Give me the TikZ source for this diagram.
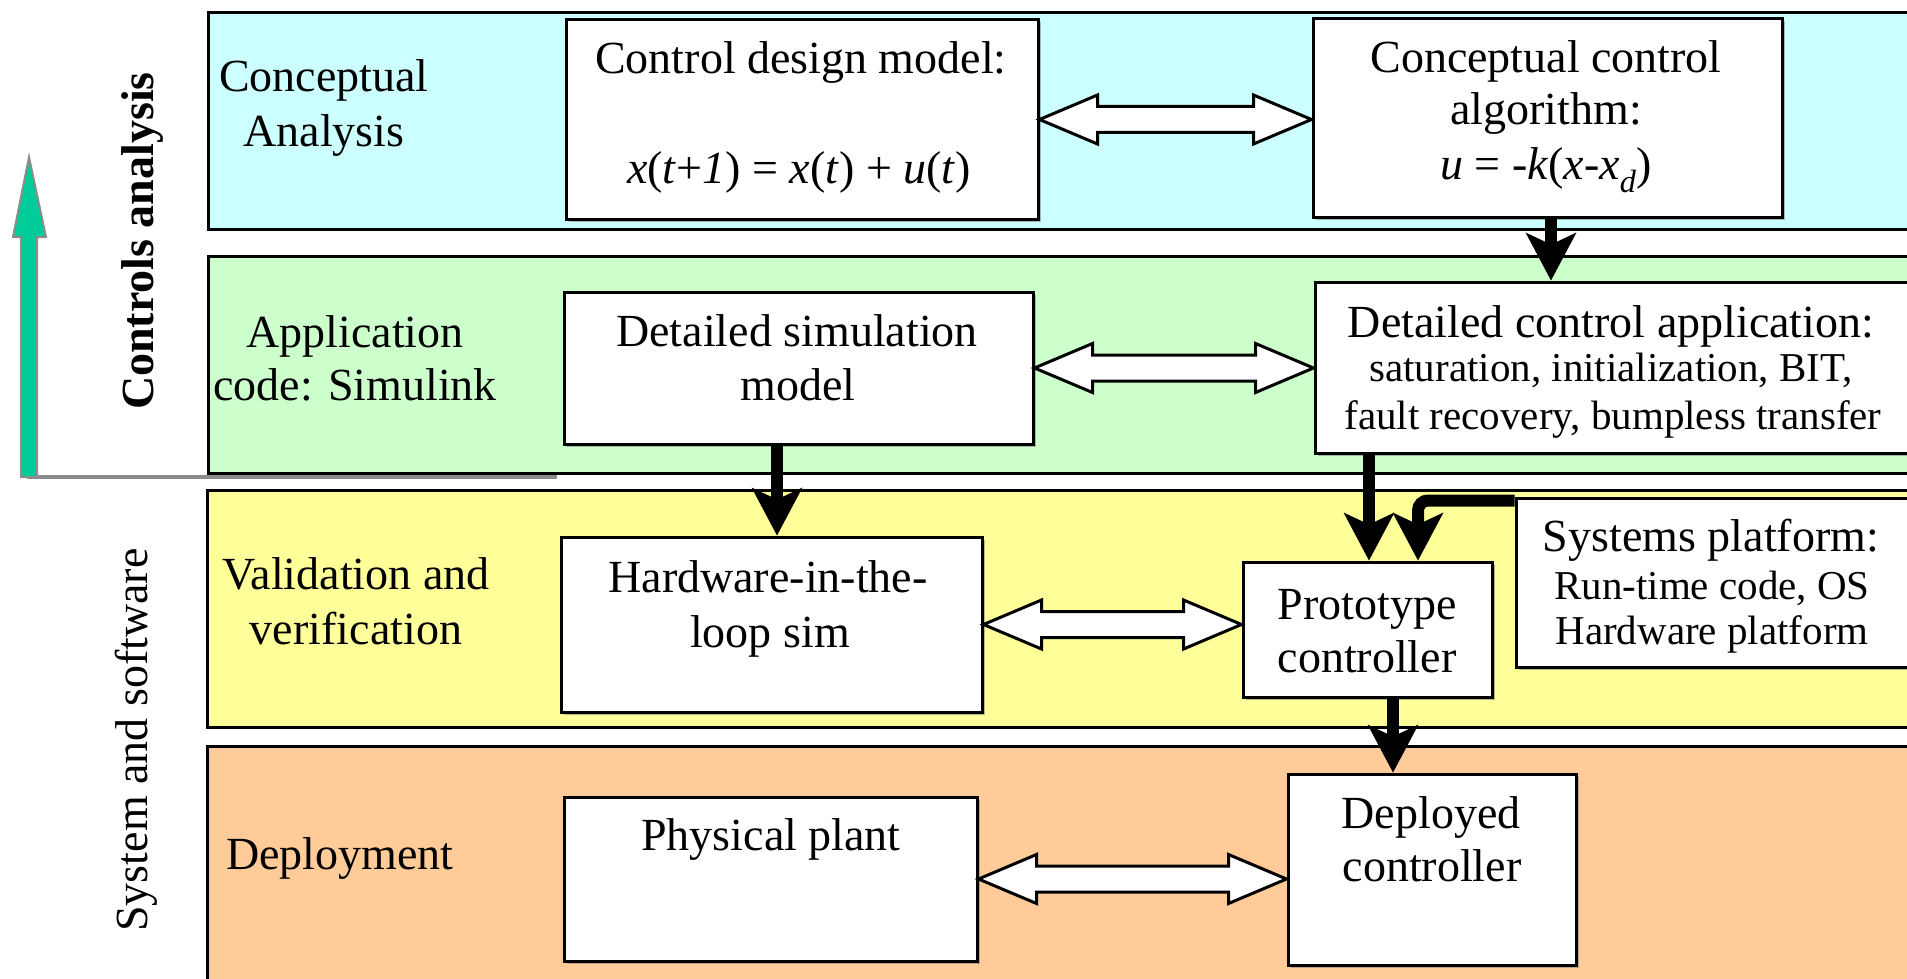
\documentclass[tikz,border=0pt]{standalone}
\usepackage{fontspec}
\setmainfont{Liberation Serif}
\usetikzlibrary{arrows.meta,calc,shadows}

\definecolor{bandcyan}{HTML}{CCFFFF}
\definecolor{bandgreen}{HTML}{CCFFCC}
\definecolor{bandyellow}{HTML}{FFFF99}
\definecolor{bandorange}{HTML}{FFCC99}
\definecolor{axisgreen}{HTML}{00CC99}
\definecolor{axisgray}{HTML}{8C8C8C}

% hollow two-headed arrow between two points on the same height
\newcommand\widearrow[2]{%
  \path[dblarrow] let \p1=(#1), \p2=(#2) in
    (\x1,\y1) -- (\x1+58pt,\y1+24.5pt) -- (\x1+58pt,\y1+13pt)
    -- (\x2-58pt,\y1+13pt) -- (\x2-58pt,\y1+24.5pt) -- (\x2,\y1)
    -- (\x2-58pt,\y1-24.5pt) -- (\x2-58pt,\y1-13pt)
    -- (\x1+58pt,\y1-13pt) -- (\x1+58pt,\y1-24.5pt) -- cycle;}

\begin{document}
\begin{tikzpicture}[x=1pt,y=-1pt,
  band/.style={draw=black, line width=3pt},
  box/.style={draw=black, line width=3pt, fill=white, inner sep=0pt,
    drop shadow={shadow xshift=2.5pt, shadow yshift=-2.5pt, fill=black!55}},
  lbl/.style={anchor=base, inner sep=0pt, font=\fontsize{46}{54}\selectfont},
  lblsm/.style={lbl, font=\fontsize{41}{46}\selectfont},
  dblarrow/.style={draw=black, fill=white, line width=3pt, line join=miter},
  flow/.style={line width=12pt, line cap=butt,
    -{Stealth[length=48pt, width=51pt, inset=12pt, line width=0pt]}}]

\path[use as bounding box] (0,0) rectangle (1907,979);
\clip (0,0) rectangle (1907,979);

% the four layers
\path[band, fill=bandcyan]   (208,12.5) rectangle (1930,229);
\path[band, fill=bandgreen]  (208,256)  rectangle (1930,473);
\path[band, fill=bandyellow] (207,490)  rectangle (1930,727);
\path[band, fill=bandorange] (207,746)  rectangle (1930,1000);

% controls-analysis axis
\draw[axisgray, line width=4pt] (27,477) -- (557,477);
\draw[axisgray, line width=2pt, fill=axisgreen, line join=miter]
  (21,477) -- (21,237) -- (13,237) -- (29,157) -- (46,237) -- (37,237) -- (37,477) -- cycle;

\node[lbl, rotate=90, font=\fontsize{46}{54}\selectfont\bfseries] (axisA) at (153,241) {Controls analysis};
\node[lbl, rotate=90] (axisB) at (147,740) {System and software};

% layer names
\node[lbl] (lay1a) at (324,92)  {Conceptual};
\node[lbl] (lay1b) at (324,147) {Analysis};
\node[lbl] (lay2a) at (355,347) {Application};
\node[lbl] (lay2b) at (355,400) {code: Simulink};
\node[lbl] (lay3a) at (356,589) {Validation and};
\node[lbl] (lay3b) at (356,644) {verification};
\node[lbl] (lay4a) at (340,869) {Deployment};

% blocks
\node[box, minimum width=472pt, minimum height=199pt] (cdm)   at (802,119.5)  {};
\node[box, minimum width=469pt, minimum height=198pt] (ca)    at (1547.5,118) {};
\node[box, minimum width=469pt, minimum height=152pt] (dsm)   at (798.5,368)  {};
\node[box, minimum width=610pt, minimum height=171pt] (dca)   at (1620,367.5) {};
\node[box, minimum width=421pt, minimum height=175pt] (hil)   at (771.5,624.5) {};
\node[box, minimum width=249pt, minimum height=135pt] (proto) at (1367.5,629.5) {};
\node[box, minimum width=409pt, minimum height=169pt] (sys)   at (1720.5,582.5) {};
\node[box, minimum width=413pt, minimum height=164pt] (pp)    at (770.5,879)  {};
\node[box, minimum width=288pt, minimum height=191pt] (dep)   at (1432,869.5) {};

% block texts
\node[lbl] (cdmA) at (801,74)  {Control design model:};
\node[lbl] (cdmB) at (799,184) {\textit{x}(\textit{t}+\textit{1}) = \textit{x}(\textit{t}) + \textit{u}(\textit{t})};

\node[lbl] (caA) at (1546,73)  {Conceptual control};
\node[lbl] (caB) at (1546,125) {algorithm:};
\node[lbl] (caC) at (1546,179) {\textit{u} = -\textit{k}(\textit{x}-\textit{x}\textsubscript{\textit{d}})};

\node[lbl] (dsmA) at (797,346) {Detailed simulation};
\node[lbl] (dsmB) at (798,400) {model};

\node[lbl]   (dcaA) at (1611,337) {Detailed control application:};
\node[lblsm] (dcaB) at (1611,381) {saturation, initialization, BIT,};
\node[lblsm] (dcaC) at (1613,429) {fault recovery, bumpless transfer};

\node[lbl] (hilA) at (768,592) {Hardware-in-the-};
\node[lbl] (hilB) at (770,647) {loop sim};

\node[lbl] (protoA) at (1367,619) {Prototype};
\node[lbl] (protoB) at (1367,672) {controller};

\node[lbl]   (sysA) at (1711,551) {Systems platform:};
\node[lblsm] (sysB) at (1712,599) {Run-time code, OS};
\node[lblsm] (sysC) at (1712,644) {Hardware platform};

\node[lbl] (ppA) at (771,850) {Physical plant};

\node[lbl] (depA) at (1431,828) {Deployed};
\node[lbl] (depB) at (1432,881) {controller};

% two-way links inside each layer
\widearrow{cdm.east}{cdm.east -| ca.west}
\widearrow{dsm.east}{dsm.east -| dca.west}
\widearrow{hil.east}{hil.east -| proto.west}
\widearrow{pp.east}{pp.east -| dep.west}

% refinement flow between layers
\coordinate (colA) at (777,0);
\coordinate (colB) at (1551,0);
\coordinate (colC) at (1369,0);
\coordinate (colD) at (1418,0);
\coordinate (colE) at (1393,0);

\draw[flow] (ca.south -| colB) -- (dca.north -| colB);
\draw[flow] (dsm.south -| colA) -- (hil.north -| colA);
\draw[flow] (dca.south -| colC) -- (proto.north -| colC);
\draw[flow, rounded corners=10pt] ([yshift=-4pt]sys.north west) -| (proto.north -| colD);
\draw[flow] (proto.south -| colE) -- (dep.north -| colE);

\end{tikzpicture}
\end{document}
